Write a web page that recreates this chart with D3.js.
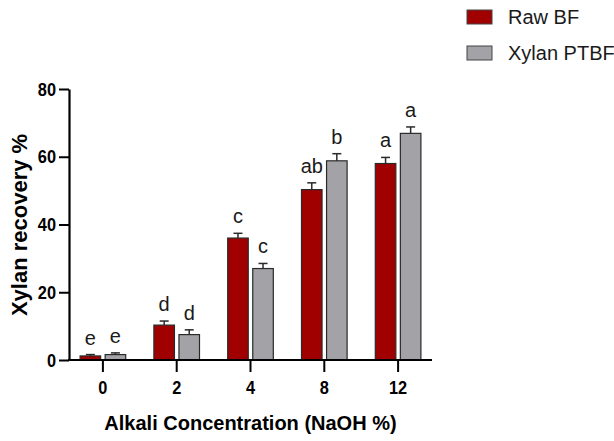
<!DOCTYPE html>
<html>
<head>
<meta charset="utf-8">
<script src="https://cdn.jsdelivr.net/npm/d3@7"></script>
<style>
  body { margin: 0; background: #fff; }
  svg { display: block; font-family: "Liberation Sans", Arial, sans-serif; }
</style>
</head>
<body>
<div id="chart"></div>
<script>
// data
var categories = ["0", "2", "4", "8", "12"];
var rawBF = [1.2, 10.3, 36.0, 50.3, 58.0];
var rawBFErr = [0.4, 1.2, 1.4, 2.0, 1.8];
var xylanPTBF = [1.6, 7.5, 27.0, 58.8, 66.9];
var xylanPTBFErr = [0.5, 1.4, 1.5, 2.1, 1.9];
var rawLetters = ["e", "d", "c", "ab", "a"];
var xylanLetters = ["e", "d", "c", "b", "a"];
var yTicks = [0, 20, 40, 60, 80];
var seriesNames = ["Raw BF", "Xylan PTBF"];
var colors = ["#a00000", "#a3a3a7"];

var width = 614, height = 441;
var plotLeft = 69, plotRight = 432, plotTop = 89, plotBottom = 360;

var svg = d3.select("#chart").append("svg")
  .attr("width", width)
  .attr("height", height);

// scales
var x = d3.scaleBand()
  .domain(categories)
  .range([66, 435]);

var x1 = d3.scaleBand()
  .domain([0, 1])
  .range([-22.8, 22.8])
  .paddingInner(0.18);

var y = d3.scaleLinear()
  .domain([0, 80])
  .range([plotBottom, plotTop]);

// build rows
var series = [
  { vals: rawBF, err: rawBFErr, letters: rawLetters },
  { vals: xylanPTBF, err: xylanPTBFErr, letters: xylanLetters }
];
var rows = [];
categories.forEach(function (c, i) {
  series.forEach(function (s, k) {
    rows.push({ cat: c, k: k, v: s.vals[i], e: s.err[i], l: s.letters[i] });
  });
});

var g = svg.append("g");

// bars
g.selectAll(".bar")
  .data(rows)
  .enter().append("rect")
  .attr("class", "bar")
  .attr("x", function (d) { return x(d.cat) + x.bandwidth() / 2 + x1(d.k); })
  .attr("width", x1.bandwidth())
  .attr("y", function (d) { return y(d.v); })
  .attr("height", function (d) { return y(0) - y(d.v); })
  .attr("fill", function (d) { return colors[d.k]; })
  .attr("stroke", "#2a2a2a")
  .attr("stroke-width", 1.2);

// error bars (upper only)
var cx = function (d) { return x(d.cat) + x.bandwidth() / 2 + x1(d.k) + x1.bandwidth() / 2; };
g.selectAll(".err")
  .data(rows)
  .enter().append("line")
  .attr("x1", cx).attr("x2", cx)
  .attr("y1", function (d) { return y(d.v); })
  .attr("y2", function (d) { return y(d.v + d.e); })
  .attr("stroke", "#2a2a2a")
  .attr("stroke-width", 1.5);

g.selectAll(".cap")
  .data(rows)
  .enter().append("line")
  .attr("x1", function (d) { return cx(d) - 4.5; })
  .attr("x2", function (d) { return cx(d) + 4.5; })
  .attr("y1", function (d) { return y(d.v + d.e); })
  .attr("y2", function (d) { return y(d.v + d.e); })
  .attr("stroke", "#2a2a2a")
  .attr("stroke-width", 1.5);

// significance letters
g.selectAll(".letter")
  .data(rows)
  .enter().append("text")
  .attr("x", cx)
  .attr("y", function (d) { return y(d.v + d.e) - 10; })
  .attr("text-anchor", "middle")
  .style("font-size", "20px")
  .style("fill", "#1a1a1a")
  .text(function (d) { return d.l; });

// squeeze tick labels a bit, the original uses a condensed bold face
function narrow(sel) {
  sel.style("font-size", "19px")
    .style("font-weight", "bold")
    .attr("fill", "#000")
    .each(function () {
      var w = this.getComputedTextLength();
      d3.select(this).attr("textLength", w * 0.86).attr("lengthAdjust", "spacingAndGlyphs");
    });
}

// y axis
var yAxis = svg.append("g")
  .attr("transform", "translate(" + plotLeft + ",0)")
  .call(d3.axisLeft(y).tickValues(yTicks).tickSize(10).tickSizeOuter(0).tickPadding(3));
yAxis.select(".domain").attr("stroke", "#000").attr("stroke-width", 2.2);
yAxis.selectAll(".tick line").attr("stroke", "#000").attr("stroke-width", 2);
yAxis.selectAll(".tick text").call(narrow);

// x axis
var xAxis = svg.append("g")
  .attr("transform", "translate(0," + plotBottom + ")")
  .call(d3.axisBottom(x).tickSize(12).tickSizeOuter(0).tickPadding(9));
xAxis.select(".domain").remove();
xAxis.selectAll(".tick line").attr("stroke", "#000").attr("stroke-width", 2);
xAxis.selectAll(".tick text").call(narrow);

svg.append("line")
  .attr("x1", plotLeft - 1).attr("x2", plotRight)
  .attr("y1", plotBottom).attr("y2", plotBottom)
  .attr("stroke", "#000")
  .attr("stroke-width", 2.2);

// axis titles
svg.append("text")
  .attr("x", (plotLeft + plotRight) / 2)
  .attr("y", 430)
  .attr("text-anchor", "middle")
  .style("font-size", "20px")
  .style("font-weight", "bold")
  .text("Alkali Concentration (NaOH %)");

svg.append("text")
  .attr("transform", "translate(27," + 225 + ") rotate(-90)")
  .attr("text-anchor", "middle")
  .style("font-size", "22px")
  .style("font-weight", "bold")
  .text("Xylan recovery %");

// legend
var legend = svg.selectAll(".legend")
  .data(seriesNames)
  .enter().append("g")
  .attr("transform", function (d, i) { return "translate(467," + (10 + i * 36) + ")"; });

legend.append("rect")
  .attr("width", 25)
  .attr("height", 14)
  .attr("fill", function (d, i) { return colors[i]; })
  .attr("stroke", "#444")
  .attr("stroke-width", 1);

legend.append("text")
  .attr("x", 41)
  .attr("y", 13.5)
  .style("font-size", "20px")
  .style("fill", "#1a1a1a")
  .text(function (d) { return d; });
</script>
</body>
</html>
